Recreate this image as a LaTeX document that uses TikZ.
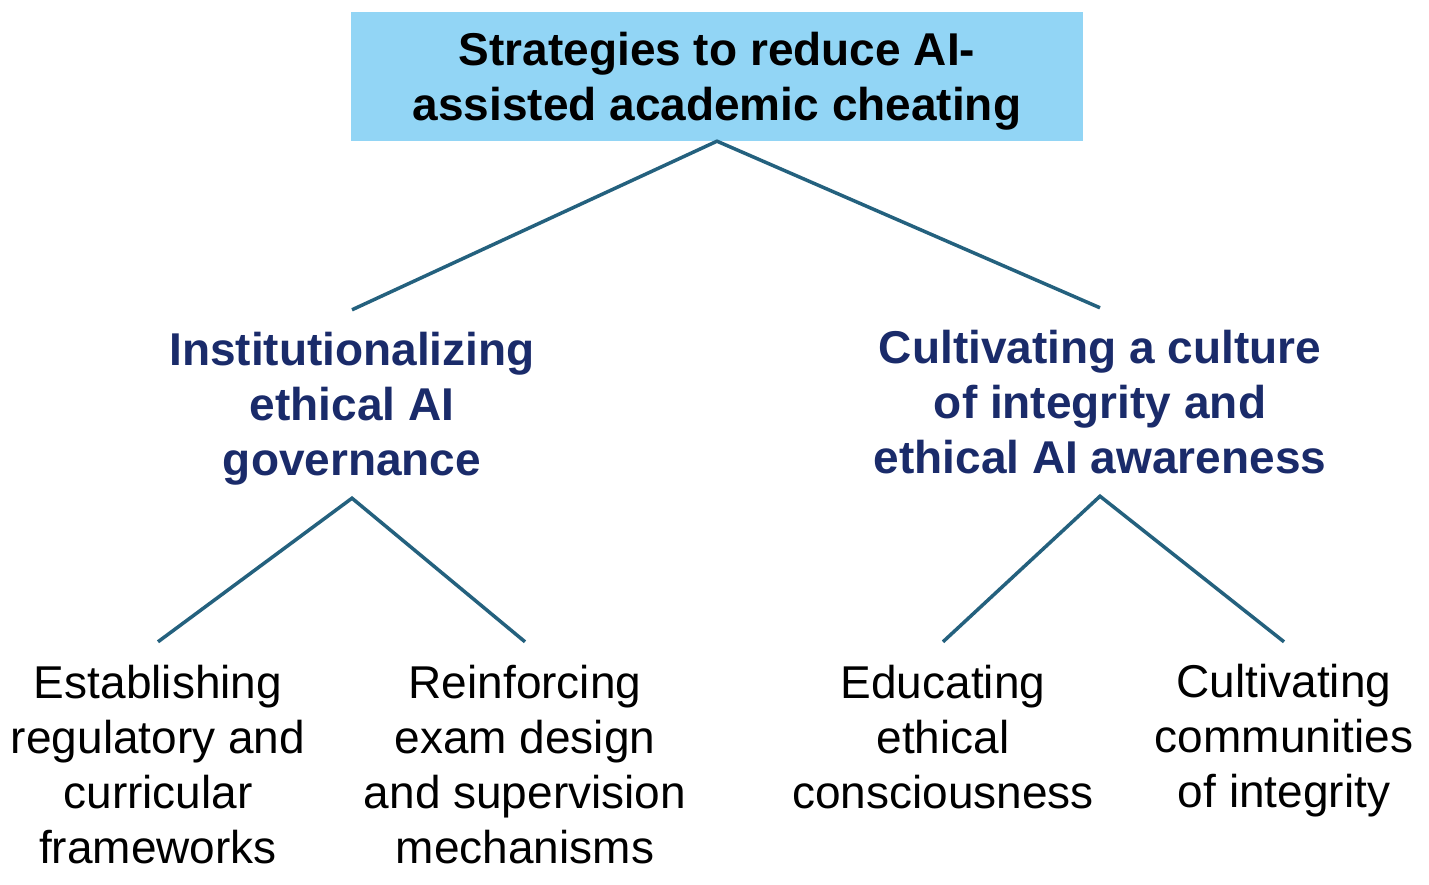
\documentclass[tikz,border=0pt]{standalone}
\usepackage{fontspec}
\setmainfont{Liberation Sans}
\definecolor{boxfill}{HTML}{92D5F5}
\definecolor{navy}{HTML}{1A2B6A}
\definecolor{linecol}{HTML}{24617E}
\tikzset{
  topbox/.style={fill=boxfill, inner sep=0pt, minimum width=732pt, minimum height=129pt},
  toptext/.style={inner sep=0pt, align=center,
    font=\fontsize{46}{55}\selectfont\bfseries, text=black},
  midbox/.style={inner sep=0pt, align=center,
    font=\fontsize{46}{55}\selectfont\bfseries, text=navy},
  leafbox/.style={inner sep=0pt, align=center,
    font=\fontsize{46}{55}\selectfont, text=black},
  link/.style={draw=linecol, line width=3.5pt}
}
\begin{document}
\begin{tikzpicture}[x=1pt,y=-1pt]
\useasboundingbox[fill=white] (0,0) rectangle (1429,885);
\node[topbox] (top) at (717,76.5) {};
\node[toptext] (toptxt) at ([yshift=-5pt]top.center) {Strategies to reduce AI-\\assisted academic cheating};
\node[midbox, minimum height=198pt] (L) at (352,409) {Institutionalizing\\ethical AI\\governance};
\node[midbox, minimum height=188pt] (R) at (1100,402) {Cultivating a culture\\of integrity and\\ethical AI awareness};
\node[leafbox, minimum height=246pt] (L1) at (158,765) {Establishing\\regulatory and\\curricular\\frameworks};
\node[leafbox, minimum height=246pt] (L2) at (525,765) {Reinforcing\\exam design\\and supervision\\mechanisms};
\node[leafbox, minimum height=191pt] (R1) at (943,737.5) {Educating\\ethical\\consciousness};
\node[leafbox, minimum height=197pt] (R2) at (1284,740.5) {Cultivating\\communities\\of integrity};
\draw[link] (L.north) -- (top.south) -- (R.north);
\draw[link] (L1.north) -- ([yshift=10pt]L.south) -- (L2.north);
\draw[link] (R1.north) -- (R.south) -- (R2.north);
\end{tikzpicture}
\end{document}
